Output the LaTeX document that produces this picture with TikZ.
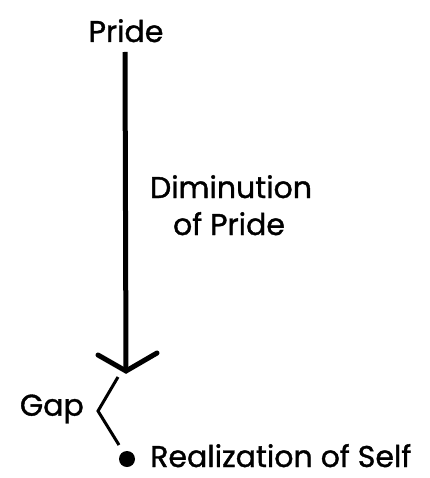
\documentclass[tikz,border=0pt]{standalone}
\usepackage{fontspec}
\setmainfont{Poppins}[FakeBold=1.2]
\begin{document}
\begin{tikzpicture}[x=1pt,y=-1pt,
  lbl/.style={inner sep=0pt, font=\fontsize{30}{35}\selectfont},
  mainline/.style={line width=5pt},
  thinline/.style={line width=3pt}]
\useasboundingbox (0,0) rectangle (429,478);
\node[lbl, anchor=base] (pride) at (126,42) {Pride};
\coordinate (top) at (125,52);
\coordinate (tip) at (126,371);
\coordinate (al) at (98,355);
\coordinate (ar) at (157,353);
\draw[mainline] (top) -- (tip);
\draw[mainline, line join=miter, line cap=round] (al) -- (tip) -- (ar);
\node[lbl, anchor=base] (dim) at (231,198) {Diminution};
\node[lbl, anchor=base] (ofp) at (229,235) {of Pride};
\coordinate (g1) at (118,377);
\coordinate (g2) at (98,411);
\coordinate (g3) at (119,445);
\draw[thinline] (g1) -- (g2) -- (g3);
\node[lbl, anchor=east] (gap) at (84,409) {Gap};
\fill (127,459) circle (8pt) coordinate (dot);
\node[lbl, anchor=base west, text depth=0pt] (real) at (150,467) {Realization of Self};
\end{tikzpicture}
\end{document}
